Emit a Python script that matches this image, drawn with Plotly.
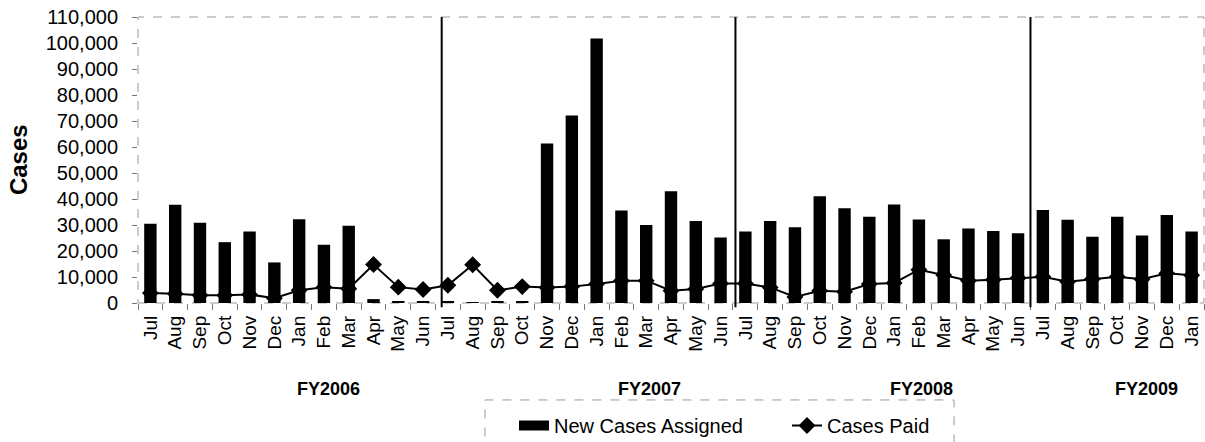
import plotly.graph_objects as go

# monthly categories, Jul 2005 .. Jan 2009
fy_months = ['Jul', 'Aug', 'Sep', 'Oct', 'Nov', 'Dec', 'Jan', 'Feb', 'Mar', 'Apr', 'May', 'Jun']
months = fy_months * 3 + fy_months[:7]
fiscal_years = ['FY2006', 'FY2007', 'FY2008', 'FY2009']

new_cases = [
    30500, 37800, 30900, 23400, 27500, 15600, 32200, 22400, 29700, 1500, 400, 400,
    500, 300, 400, 600, 61300, 72100, 101700, 35600, 30000, 43000, 31500, 25200,
    27500, 31500, 29100, 41100, 36400, 33200, 37900, 32100, 24500, 28700, 27700, 26800,
    35800, 32000, 25500, 33200, 26000, 33800, 27500,
]
cases_paid = [
    3800, 3600, 3000, 3000, 3300, 1800, 4900, 6100, 5500, 14800, 6100, 5200,
    6800, 14700, 4900, 6300, 6000, 6300, 7300, 8600, 8600, 4700, 5400, 7500,
    7500, 6000, 2300, 4700, 4300, 7300, 7700, 12800, 10800, 8600, 8900, 9600,
    10100, 8200, 9200, 10100, 9100, 11400, 10700,
]

idx = list(range(len(months)))
FONT = 'Liberation Sans, Arial, sans-serif'

W, H = 1205, 442

fig = go.Figure()

# bars sit on an overlaid axis so they are drawn above the line (hides the diamonds)
fig.add_trace(go.Bar(
    x=idx, y=new_cases, name='New Cases Assigned',
    marker=dict(color='black', line=dict(width=0)),
    width=0.5, yaxis='y2', showlegend=False,
))
# legend-only entry to get the wide black swatch
fig.add_trace(go.Scatter(
    x=[None], y=[None], name='New Cases Assigned', mode='lines',
    line=dict(color='black', width=12),
))
fig.add_trace(go.Scatter(
    x=idx, y=cases_paid, name='Cases Paid', mode='lines+markers',
    line=dict(color='black', width=2),
    marker=dict(symbol='diamond', size=13, color='black'),
))

# fiscal year separators
for xb in [11.75, 23.6, 35.5]:
    fig.add_shape(type='line', xref='x', yref='paper', x0=xb, x1=xb, y0=-0.015, y1=1,
                  line=dict(color='black', width=2))

# plot frame
fig.add_shape(type='rect', xref='paper', yref='paper', x0=0, x1=1, y0=0, y1=1,
              line=dict(color='#999999', width=1, dash='dash'), layer='below')

# legend box
fig.add_shape(type='rect', xref='paper', yref='paper', x0=0.3255, x1=0.7655, y0=-0.55, y1=-0.339,
              line=dict(color='#999999', width=1, dash='dash'))

fy_pos = [7.2, 20.15, 31.1, 40.2]
for name, xp in zip(fiscal_years, fy_pos):
    fig.add_annotation(x=xp, y=-0.30, xref='x', yref='paper', text=f'<b>{name}</b>',
                       showarrow=False, xanchor='center', yanchor='middle',
                       font=dict(size=18, family=FONT, color='black'))

fig.add_annotation(x=-0.1125, y=0.5, xref='paper', yref='paper', text='<b>Cases</b>',
                   textangle=-90, showarrow=False, xanchor='center', yanchor='middle',
                   font=dict(size=24, family=FONT, color='black'))

fig.update_layout(
    width=W, height=H,
    margin=dict(l=138, r=1, t=17, b=139, autoexpand=False),
    paper_bgcolor='white', plot_bgcolor='white',
    font=dict(family=FONT, size=20, color='black'),
    showlegend=True,
    legend=dict(orientation='h', xref='container', yref='container',
                x=514 / W, xanchor='left', y=1 - 406 / H, yanchor='top',
                bgcolor='rgba(0,0,0,0)', font=dict(size=20), entrywidth=228),
    xaxis=dict(
        range=[-0.5, len(months) - 0.5], tickmode='array', tickvals=idx, ticktext=months,
        tickangle=-90, ticks='', showgrid=False, zeroline=False, showline=False,
        ticklabelstandoff=8, automargin=False, tickfont=dict(size=19),
        ticklabeloverflow='allow',
        minor=dict(tickmode='linear', tick0=-0.5, dtick=1, ticks='outside', ticklen=6,
                   tickcolor='#777777', showgrid=False),
    ),
    yaxis=dict(
        range=[0, 110000], dtick=10000, tickformat=',d', ticks='outside', ticklen=5,
        tickcolor='#777777', showgrid=False, zeroline=False, showline=False,
        ticklabelstandoff=10, automargin=False, ticklabeloverflow='allow',
    ),
    yaxis2=dict(range=[0, 110000], overlaying='y', visible=False),
)

# drop the default 8px body margin so the figure fills the window
fig.write_html('out.html', config={'displayModeBar': False},
               post_script="document.body.style.margin = '0';")
